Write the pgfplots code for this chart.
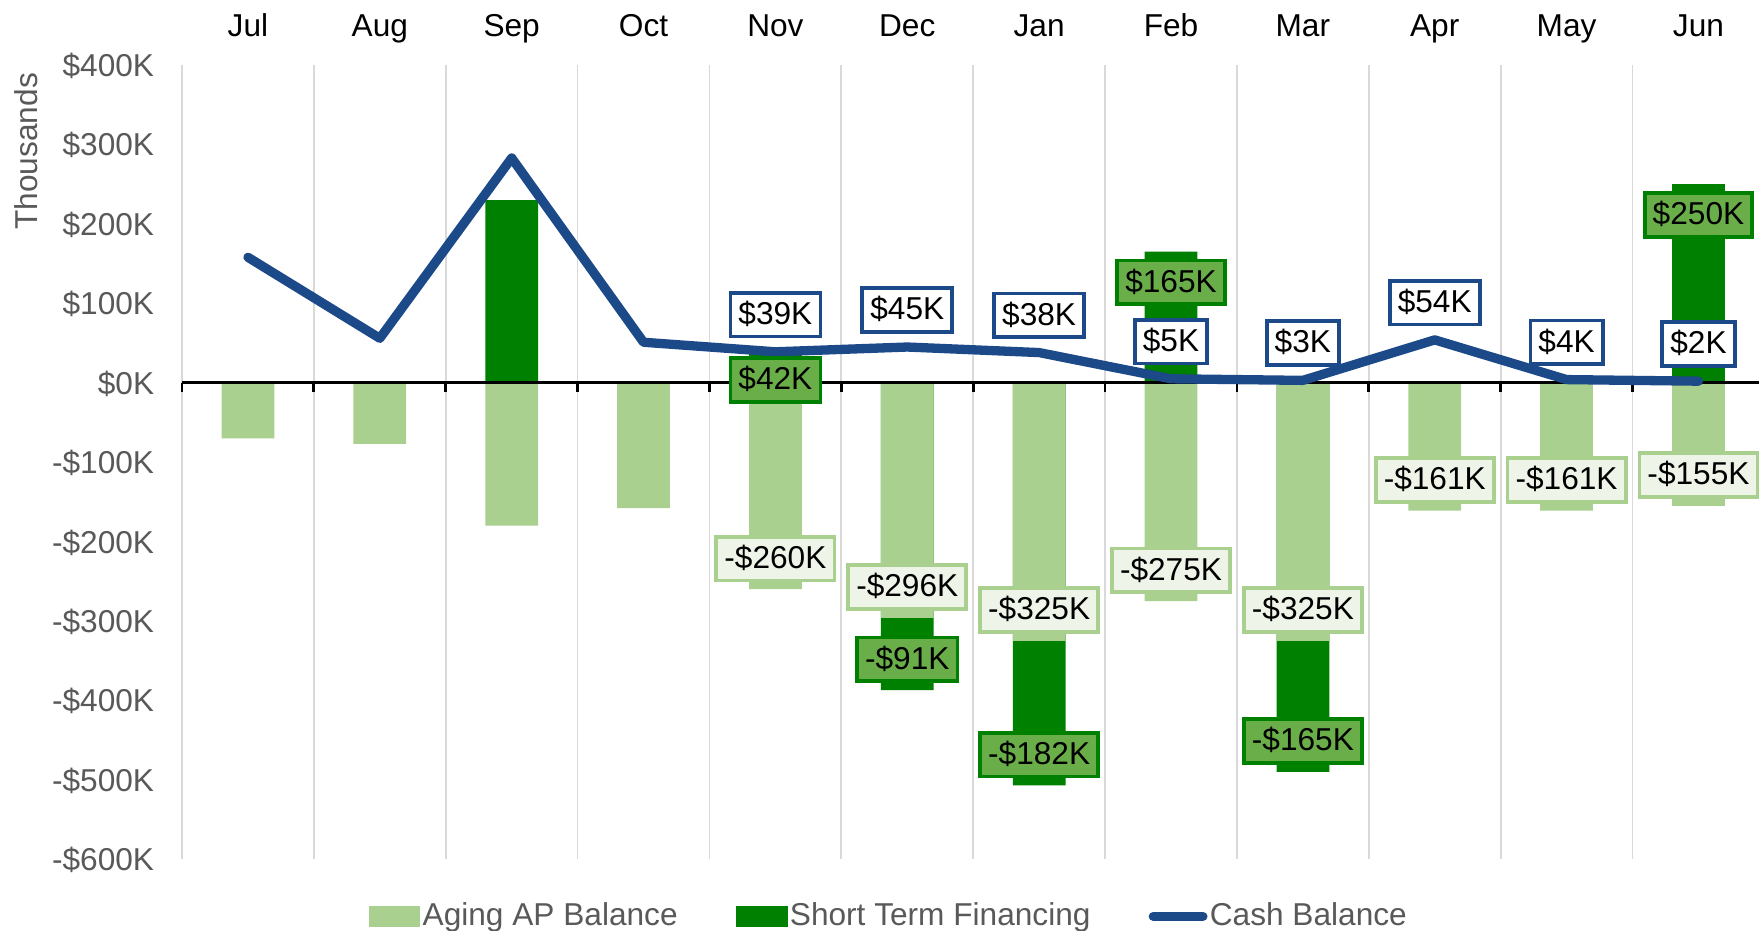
\documentclass[border=0pt]{standalone}
\usepackage{pgfplots}
\pgfplotsset{compat=1.18}
\usepackage{fontspec}
\setmainfont{Liberation Sans}
\newcommand\fsz{\fontsize{10.2pt}{12pt}\selectfont}
\definecolor{aplight}{HTML}{A9D08E}
\definecolor{aplabel}{HTML}{EEF4E8}
\definecolor{stfdark}{HTML}{008000}
\definecolor{stflabel}{HTML}{6AAE49}
\definecolor{cashblue}{HTML}{1C4A88}
\definecolor{tickgray}{HTML}{595959}
\definecolor{gridgray}{HTML}{D9D9D9}
\tikzset{
  lbl/.style={anchor=center, line width=1.2pt, text=black, font=\fsz,
    inner xsep=2.6pt, inner ysep=2.3pt, text height=7.9pt, text depth=1.6pt},
}
\begin{document}
\begin{tikzpicture}
\begin{axis}[
  name=ax,
  scale only axis,
  width=510.3pt, height=256.1pt,
  xmin=-0.5, xmax=11.5, ymin=-600, ymax=400,
  enlargelimits=false,
  clip=false,
  axis line style={draw=none},
  major tick length=0pt, minor tick length=0pt,
  xtick={0,...,11},
  xticklabels={Jul,Aug,Sep,Oct,Nov,Dec,Jan,Feb,Mar,Apr,May,Jun},
  xticklabel pos=right,
  xticklabel style={anchor=base, yshift=9.35pt, font=\fsz, text=black},
  minor xtick={-0.5,0.5,...,11.5},
  xminorgrids=true,
  minor x grid style={draw=gridgray, line width=0.55pt},
  ytick={-600,-500,-400,-300,-200,-100,0,100,200,300,400},
  yticklabels={-\$600K,-\$500K,-\$400K,-\$300K,-\$200K,-\$100K,\$0K,\$100K,\$200K,\$300K,\$400K},
  yticklabel style={anchor=base east, inner sep=0pt, xshift=-8.8pt, yshift=-3.7pt, font=\fsz, text=tickgray},
  legend style={at={(axis description cs:0.4467,0)}, anchor=center, yshift=-18.4pt,
    draw=none, fill=none, font=\fsz, text=tickgray, legend columns=3,
    /tikz/every even column/.append style={column sep=18pt},
    nodes={inner xsep=0.75pt, inner ysep=1pt}},
  legend cell align=left,
]
\addlegendimage{legend image code/.code={\fill[aplight] (0pt,-3.1pt) rectangle (16.3pt,3.1pt);}}
\addlegendentry{Aging AP Balance}
\addlegendimage{legend image code/.code={\fill[stfdark] (0pt,-3.1pt) rectangle (16.3pt,3.1pt);}}
\addlegendentry{Short Term Financing}
\addlegendimage{legend image code/.code={\draw[cashblue, line width=3pt, line cap=round] (1.5pt,0pt) -- (17.5pt,0pt);}}
\addlegendentry{Cash Balance}

% Short term financing (negative bars drawn to their stacked end)
\addplot[ybar, bar width=0.4, bar shift=0pt, fill=stfdark, draw=none, forget plot]
  coordinates {(2,230) (4,42) (5,-387) (6,-507) (7,165) (8,-490) (11,250)};
% Aging AP balance
\addplot[ybar, bar width=0.4, bar shift=0pt, fill=aplight, draw=none, forget plot]
  coordinates {(0,-70) (1,-77) (2,-180) (3,-158) (4,-260) (5,-296) (6,-325) (7,-275) (8,-325) (9,-161) (10,-161) (11,-155)};

% zero axis line with ticks
\draw[black, line width=0.9pt] (axis cs:-0.5,0) -- (axis cs:11.5,0);
\pgfplotsinvokeforeach{-0.5,0.5,1.5,2.5,3.5,4.5,5.5,6.5,7.5,8.5,9.5,10.5}{
  \draw[black, line width=0.9pt] (axis cs:#1,0) -- ([yshift=-2.9pt]axis cs:#1,0);
}

% Cash balance
\addplot[cashblue, line width=3pt, line cap=round, line join=round, mark=none, forget plot]
  coordinates {(0,158) (1,56) (2,283) (3,51) (4,39) (5,45) (6,38) (7,5) (8,3) (9,54) (10,4) (11,2)};

% labels: aging AP
\addplot[only marks, mark=none, forget plot, point meta=explicit symbolic, nodes near coords,
  nodes near coords style={lbl, yshift=9.9pt, fill=aplabel, draw=aplight}]
  coordinates {(4,-260) [-\$260K] (5,-296) [-\$296K] (6,-325) [-\$325K] (7,-275) [-\$275K]
               (8,-325) [-\$325K] (9,-161) [-\$161K] (10,-161) [-\$161K] (11,-155) [-\$155K]};
% labels: positive financing
\addplot[only marks, mark=none, forget plot, point meta=explicit symbolic, nodes near coords,
  nodes near coords style={lbl, yshift=-9.9pt, fill=stflabel, draw=stfdark}]
  coordinates {(4,42) [\$42K] (7,165) [\$165K] (11,250) [\$250K]};
% labels: negative financing
\addplot[only marks, mark=none, forget plot, point meta=explicit symbolic, nodes near coords,
  nodes near coords style={lbl, yshift=9.9pt, fill=stflabel, draw=stfdark}]
  coordinates {(5,-387) [-\$91K] (6,-507) [-\$182K] (8,-490) [-\$165K]};
% labels: cash
\addplot[only marks, mark=none, forget plot, point meta=explicit symbolic, nodes near coords,
  nodes near coords style={lbl, yshift=12pt, fill=white, draw=cashblue}]
  coordinates {(4,39) [\$39K] (5,45) [\$45K] (6,38) [\$38K] (7,5) [\$5K]
               (8,3) [\$3K] (9,54) [\$54K] (10,4) [\$4K] (11,2) [\$2K]};
\end{axis}
\node[rotate=90, anchor=center, text=tickgray, font=\fsz] at ([xshift=-50.2pt, yshift=-27.8pt]ax.north west) {Thousands};
\pgfresetboundingbox
\useasboundingbox ([xshift=-58.7pt, yshift=-23.1pt]ax.south west) rectangle ([xshift=-1.74pt, yshift=21pt]ax.north east);
\end{tikzpicture}
\end{document}
